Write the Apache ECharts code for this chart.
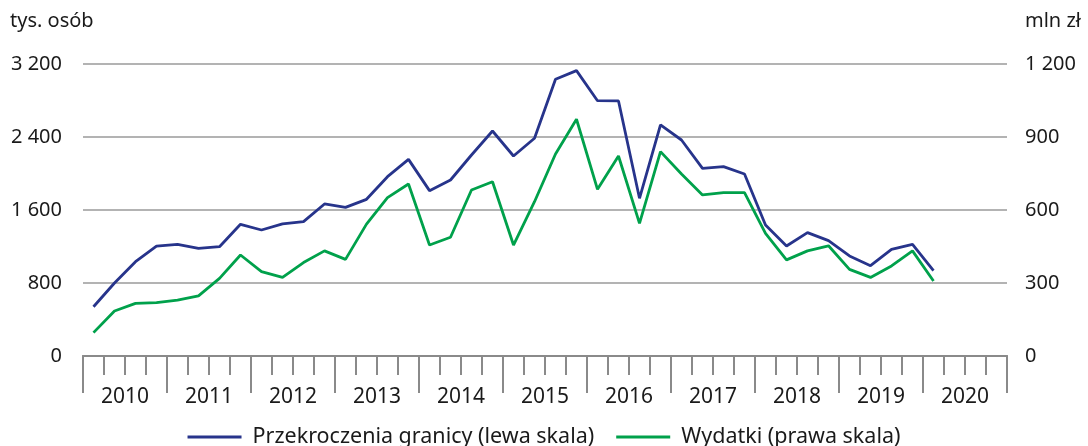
<!DOCTYPE html>
<html>
<head>
<meta charset="utf-8">
<script src="https://cdn.jsdelivr.net/npm/echarts@6/dist/echarts.min.js"></script>
<style>
  html, body { margin: 0; padding: 0; background: #fff; }
  #chart { width: 1088px; height: 446px; }
</style>
</head>
<body>
<div id="chart"></div>
<script>
// kwartały 2010–2020, dane do I kw. 2020
const years = ['2010', '2011', '2012', '2013', '2014', '2015', '2016', '2017', '2018', '2019', '2020']
const quarters = years.flatMap(y => ['I', 'II', 'III', 'IV'].map(q => q + ' ' + y))

// Przekroczenia granicy, tys. osób (lewa skala)
const crossings = [
  540, 800, 1034, 1205, 1224, 1180, 1198, 1443, 1381, 1447, 1472, 1666,
  1629, 1717, 1965, 2155, 1812, 1929, 2203, 2466, 2192, 2386, 3032, 3127,
  2798, 2795, 1728, 2532, 2367, 2057, 2075, 1995, 1436, 1205, 1352, 1264,
  1096, 990, 1169, 1224, 935
]

// Wydatki, mln zł (prawa skala)
const spending = [
  96, 185, 216, 219, 230, 247, 319, 415, 347, 323, 384, 432,
  397, 542, 651, 707, 456, 488, 682, 716, 456, 634, 830, 973,
  685, 822, 545, 840, 748, 662, 671, 671, 504, 395, 432, 453,
  356, 323, 370, 432, 308
]

const leftTicks = { min: 0, max: 3200, interval: 800 }
const rightTicks = { min: 0, max: 1200, interval: 300 }

const font = '"Noto Sans", sans-serif'
const textColor = '#1a1a1a'
const gridColor = '#9a9a9a'
const axisColor = '#8a8a8a'

const fmt = v => String(v).replace(/\B(?=(\d{3})+(?!\d))/g, ' ')

const chart = echarts.init(document.getElementById('chart'))

chart.setOption({
  animation: false,
  textStyle: { fontFamily: font, color: textColor },
  grid: { left: 83, right: 81, top: 64, bottom: 90 },
  graphic: [
    { type: 'text', left: 10, top: 11, style: { text: 'tys. osób', font: '20px ' + font, fill: textColor } },
    { type: 'text', left: 1025, top: 11, style: { text: 'mln zł', font: '20px ' + font, fill: textColor } },
  ],
  legend: {
    bottom: -7,
    left: 'center',
    icon: 'rect',
    itemWidth: 54,
    itemHeight: 3,
    itemGap: 22,
    textStyle: { fontFamily: font, fontSize: 21.5, color: textColor, padding: [0, 0, 0, 6] },
    data: ['Przekroczenia granicy (lewa skala)', 'Wydatki (prawa skala)'],
  },
  xAxis: [
    {
      type: 'category',
      data: quarters,
      boundaryGap: true,
      axisLine: { show: true, onZero: false, lineStyle: { color: axisColor, width: 2 } },
      axisTick: { show: true, interval: 0, length: 19, lineStyle: { color: axisColor, width: 2 } },
      axisLabel: { show: false },
      splitLine: { show: false },
    },
    {
      type: 'category',
      data: years,
      position: 'bottom',
      boundaryGap: true,
      axisLine: { show: true, onZero: false, lineStyle: { color: axisColor, width: 2 } },
      axisTick: { show: true, interval: 0, length: 37, lineStyle: { color: axisColor, width: 2 } },
      axisLabel: { interval: 0, margin: 31, fontSize: 21, color: textColor, fontFamily: font },
      splitLine: { show: false },
    },
  ],
  yAxis: [
    {
      type: 'value',
      ...leftTicks,
      axisLine: { show: false },
      axisTick: { show: false },
      splitLine: { lineStyle: { color: gridColor, width: 1.5 } },
      axisLabel: { margin: 21, fontSize: 20, color: textColor, formatter: fmt },
    },
    {
      type: 'value',
      ...rightTicks,
      axisLine: { show: false },
      axisTick: { show: false },
      splitLine: { show: false },
      axisLabel: { margin: 18, fontSize: 20, color: textColor, formatter: fmt },
    },
  ],
  series: [
    {
      name: 'Przekroczenia granicy (lewa skala)',
      type: 'line',
      xAxisIndex: 0,
      yAxisIndex: 0,
      data: crossings,
      symbol: 'none',
      itemStyle: { color: '#27348b' },
      lineStyle: { color: '#27348b', width: 2.8 },
    },
    {
      name: 'Wydatki (prawa skala)',
      type: 'line',
      xAxisIndex: 0,
      yAxisIndex: 1,
      data: spending,
      symbol: 'none',
      itemStyle: { color: '#00a14b' },
      lineStyle: { color: '#00a14b', width: 2.8 },
    },
  ],
})
</script>
</body>
</html>
